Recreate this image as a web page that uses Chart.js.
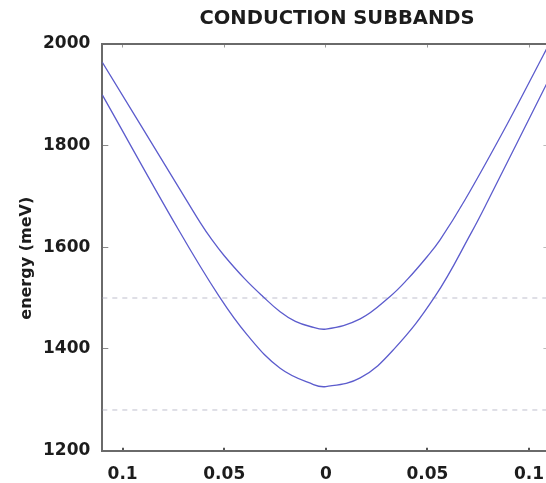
<!DOCTYPE html>
<html>
<head>
<meta charset="utf-8">
<script src="https://cdn.jsdelivr.net/npm/chart.js@4"></script>
<style>
  html, body { margin: 0; padding: 0; background: #fff; overflow: hidden; }
</style>
</head>
<body>
<canvas id="chart" width="674" height="483"></canvas>
<script>
// wave vector (absolute value shown on the axis) and subband energies in meV
const kUpper = [-0.11, -0.0716, -0.0618, -0.056, -0.05, -0.04, -0.031, -0.0225, -0.015, -0.0077, 0, 0.0169, 0.0316, 0.04, 0.05, 0.0562, 0.0685, 0.089, 0.107, 0.11];
const eUpper = [1963, 1712, 1648, 1614, 1583, 1538, 1503, 1473, 1454, 1444, 1439, 1459, 1503, 1536, 1582, 1614, 1693, 1840, 1977, 2000];

const kLower = [-0.11, -0.0725, -0.0525, -0.0388, -0.0225, -0.0061, 0, 0.0169, 0.0332, 0.0537, 0.0718, 0.08, 0.1083, 0.11];
const eLower = [1899, 1634, 1503, 1428, 1362, 1330, 1326, 1343, 1398, 1503, 1630, 1693, 1918, 1932];

// dashed reference levels (meV)
const levels = [1500, 1280];

const kRange = [-0.11, 0.11];
const eRange = [1200, 2000];
const kStep = 0.05;
const eStep = 200;

const CURVE = "rgb(92, 92, 205)";
const AXIS = "#6a6a6a";
const TEXT = "#1c1c1c";
const FONT = "'DejaVu Sans', sans-serif";

const toPoints = (xs, ys) => xs.map((x, i) => ({ x: x, y: ys[i] }));

const datasets = [
    {
        data: toPoints(kUpper, eUpper),
        borderColor: CURVE,
        borderWidth: 1.3,
        tension: 0.4,
        pointRadius: 0
    },
    {
        data: toPoints(kLower, eLower),
        borderColor: CURVE,
        borderWidth: 1.3,
        tension: 0.4,
        pointRadius: 0
    }
];
levels.forEach(lv => {
    datasets.push({
        data: toPoints(kRange, [lv, lv]),
        borderColor: "rgba(180, 180, 198, 0.85)",
        borderWidth: 1,
        borderDash: [5, 5],
        pointRadius: 0
    });
});

new Chart(document.getElementById("chart"), {
    type: "scatter",
    data: { datasets: datasets },
    options: {
        responsive: false,
        animation: false,
        showLine: true,
        layout: { padding: 0 },
        plugins: {
            legend: { display: false },
            tooltip: { enabled: false },
            title: {
                display: true,
                text: "CONDUCTION SUBBANDS",
                color: TEXT,
                font: { family: FONT, size: 19.5, weight: "bold" },
                padding: { top: 7, bottom: 13.1 }
            }
        },
        scales: {
            x: {
                type: "linear",
                position: "bottom",
                min: kRange[0],
                max: kRange[1],
                afterFit: s => { s.height = 32.3; },
                border: { display: true, color: AXIS, width: 2 },
                grid: { drawOnChartArea: false, tickLength: -3, tickColor: "#555", lineWidth: 2 },
                ticks: {
                    stepSize: kStep,
                    includeBounds: false,
                    padding: 16.5,
                    color: TEXT,
                    font: { family: FONT, size: 17, weight: "bold" },
                    callback: v => String(Math.abs(Math.round(v * 100) / 100))
                }
            },
            xTop: {
                type: "linear",
                position: "top",
                min: kRange[0],
                max: kRange[1],
                afterFit: s => { s.height = 0; },
                border: { display: true, color: AXIS, width: 2 },
                grid: { drawOnChartArea: false, tickLength: -4, tickColor: "#999" },
                ticks: { stepSize: kStep, includeBounds: false, display: false }
            },
            y: {
                type: "linear",
                position: "left",
                min: eRange[0],
                max: eRange[1],
                afterFit: s => { s.width = 102.3; },
                border: { display: true, color: AXIS, width: 2 },
                grid: { drawOnChartArea: false, tickLength: -6, tickColor: "#888" },
                ticks: {
                    stepSize: eStep,
                    padding: 18,
                    color: TEXT,
                    font: { family: FONT, size: 17, weight: "bold" },
                    callback: v => String(v)
                },
                title: {
                    display: true,
                    text: "energy (meV)\u00a0\u00a0\u00a0\u00a0",
                    color: TEXT,
                    font: { family: FONT, size: 16, weight: "bold" },
                    padding: { top: 17, bottom: 0 }
                }
            },
            yRight: {
                type: "linear",
                position: "right",
                min: eRange[0],
                max: eRange[1],
                afterFit: s => { s.width = 124.6; },
                border: { display: false },
                grid: { drawOnChartArea: false, tickLength: -6, tickColor: "#bbb" },
                ticks: { stepSize: eStep, display: false }
            }
        }
    }
});
</script>
</body>
</html>
